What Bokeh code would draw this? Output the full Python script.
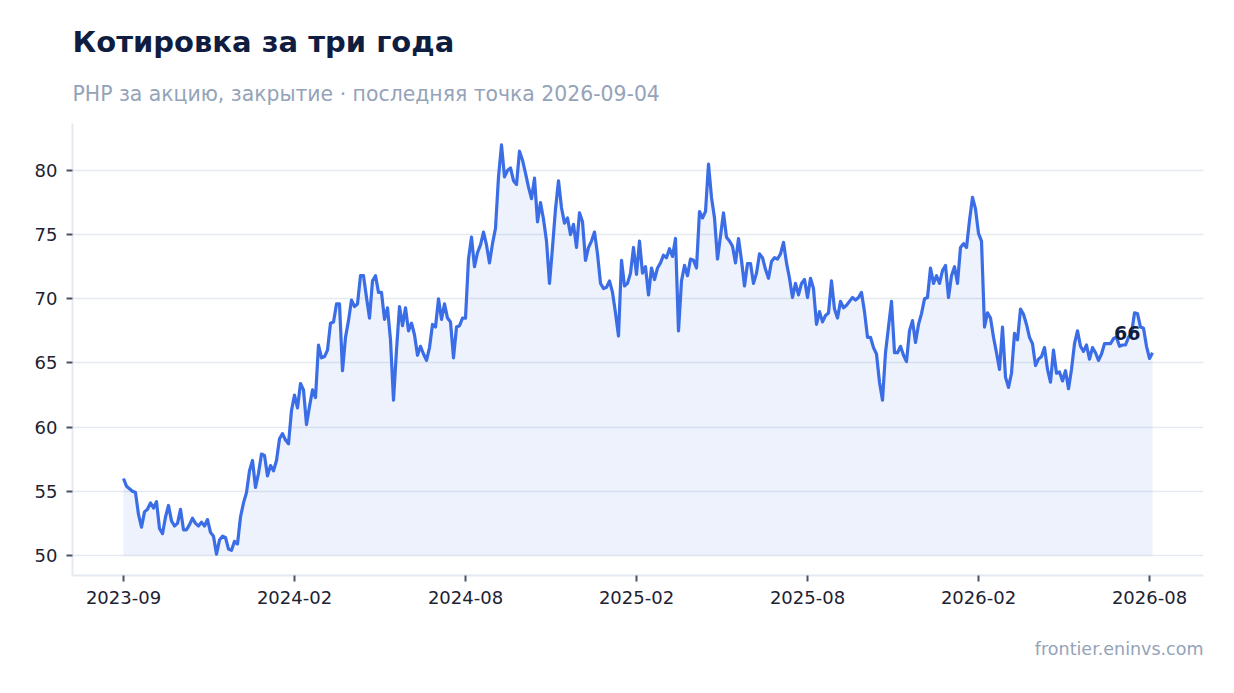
from bokeh.core.properties import value
from bokeh.embed import file_html
from bokeh.models import ColumnDataSource, FixedTicker, Range1d, Title
from bokeh.plotting import figure
from bokeh.resources import INLINE

# Chart texts
title = "Котировка за три года"
subtitle = "PHP за акцию, закрытие · последняя точка 2026-09-04"
credit = "frontier.eninvs.com"

# X axis: one label every 57 samples (about half a year of sessions)
tick_labels = ["2023-09", "2024-02", "2024-08", "2025-02", "2025-08", "2026-02", "2026-08"]
samples_per_tick = 57
y_ticks = [50, 55, 60, 65, 70, 75, 80]

# Closing price, PHP per share (oldest first)
close = [
    56.0, 55.4, 55.2, 55.0, 54.9, 53.2, 52.2, 53.4, 53.6, 54.1,
    53.7, 54.2, 52.1, 51.7, 53.0, 53.9, 52.7, 52.3, 52.5, 53.6,
    52.0, 52.0, 52.4, 52.9, 52.5, 52.3, 52.6, 52.3, 52.8, 51.8,
    51.5, 50.1, 51.2, 51.5, 51.4, 50.5, 50.4, 51.1, 50.9, 53.0,
    54.1, 54.9, 56.6, 57.4, 55.3, 56.4, 57.9, 57.8, 56.2, 57.0,
    56.6, 57.4, 59.1, 59.5, 59.0, 58.7, 61.3, 62.5, 61.5, 63.4,
    62.9, 60.2, 61.6, 62.9, 62.3, 66.4, 65.4, 65.5, 66.0, 68.1,
    68.2, 69.6, 69.6, 64.4, 67.0, 68.3, 69.9, 69.4, 69.6, 71.8,
    71.8, 70.1, 68.5, 71.4, 71.8, 70.5, 70.5, 68.4, 69.3, 66.8,
    62.1, 66.0, 69.4, 67.9, 69.3, 67.5, 68.1, 67.2, 65.6, 66.3,
    65.7, 65.2, 66.2, 68.0, 67.8, 70.0, 68.4, 69.6, 68.5, 68.2,
    65.4, 67.8, 67.9, 68.5, 68.5, 73.1, 74.8, 72.5, 73.6, 74.2,
    75.2, 74.2, 72.8, 74.3, 75.5, 79.5, 82.0, 79.5, 80.0, 80.2,
    79.2, 78.9, 81.5, 80.8, 79.8, 78.7, 77.8, 79.4, 76.0, 77.5,
    76.2, 74.5, 71.2, 74.0, 77.0, 79.2, 77.1, 75.9, 76.3, 75.0,
    75.8, 74.0, 76.7, 76.0, 73.0, 74.0, 74.5, 75.2, 73.5, 71.2,
    70.8, 70.9, 71.4, 70.5, 68.9, 67.1, 73.0, 71.0, 71.2, 72.0,
    74.0, 71.9, 74.5, 72.0, 72.5, 70.3, 72.4, 71.5, 72.4, 72.8,
    73.4, 73.2, 73.9, 73.3, 74.7, 67.5, 71.4, 72.6, 71.8, 73.1,
    73.0, 72.4, 76.8, 76.3, 76.8, 80.5, 77.9, 76.3, 73.1, 74.9,
    76.7, 74.8, 74.5, 74.1, 72.8, 74.7, 73.0, 71.0, 72.75, 72.75,
    71.2, 72.0, 73.5, 73.2, 72.3, 71.6, 72.9, 73.2, 73.1, 73.5,
    74.4, 72.8, 71.6, 70.1, 71.2, 70.3, 71.2, 71.5, 70.1, 71.6,
    70.8, 68.0, 69.0, 68.2, 68.7, 68.9, 71.4, 69.2, 68.5, 69.8,
    69.3, 69.5, 69.8, 70.1, 69.9, 70.1, 70.5, 69.0, 67.0, 67.0,
    66.2, 65.7, 63.5, 62.1, 65.8, 67.8, 69.8, 65.8, 65.8, 66.3,
    65.6, 65.1, 67.5, 68.3, 66.6, 68.0, 68.85, 70.0, 70.1, 72.4,
    71.2, 71.8, 71.2, 72.2, 72.6, 70.1, 71.8, 72.5, 71.2, 74.0,
    74.3, 74.0, 76.1, 77.9, 77.0, 75.1, 74.5, 67.8, 68.9, 68.5,
    67.0, 65.8, 64.5, 67.8, 63.9, 63.1, 64.2, 67.3, 66.8, 69.2,
    68.8, 68.0, 67.0, 66.5, 64.8, 65.3, 65.5, 66.2, 64.5, 63.5,
    66.0, 64.2, 64.3, 63.6, 64.4, 63.0, 64.5, 66.5, 67.5, 66.3,
    65.9, 66.4, 65.3, 66.2, 65.8, 65.2, 65.7, 66.5, 66.5, 66.5,
    66.9, 67.0, 66.3, 66.4, 66.4, 67.0, 67.3, 68.9, 68.85, 67.8,
    67.7, 66.3, 65.35, 65.8,
]

FONT = "DejaVu Sans"
NAVY = "#0f1d40"
MUTED = "#94a3b8"
GRID = "#e5e9f0"
BLUE = "#3a6de6"

sample = list(range(len(close)))
source = ColumnDataSource(data={"x": sample, "close": close})

p = figure(
    width=1226, height=690,
    x_range=Range1d(-17, 360), y_range=Range1d(48.44, 83.66),
    output_backend="svg", toolbar_location=None, tools="",
    min_border_left=72, min_border_right=23, min_border_top=123, min_border_bottom=115,
)
p.title = None

# area under the line, then the line itself
p.varea(x="x", y1=50, y2="close", source=source, fill_color=BLUE, fill_alpha=0.09)
p.line(x="x", y="close", source=source, line_color=BLUE, line_width=3.2, line_join="round")

# last value marker text
last = ColumnDataSource(data={"x": [sample[-1]], "y": [close[-1]], "t": [f"{close[-1]:.0f}"]})
p.text(x="x", y="y", text="t", source=last, text_font=value(FONT), text_font_style="bold",
       text_font_size="19px", text_color=NAVY, text_align="right", text_baseline="bottom",
       x_offset=-12, y_offset=-13)

# titles
p.add_layout(Title(text=subtitle, text_font=FONT, text_font_size="20.4px", text_font_style="normal",
                   text_color=MUTED, align="left", standoff=35), "above")
p.add_layout(Title(text=title, text_font=FONT, text_font_size="29px", text_font_style="bold",
                   text_color=NAVY, align="left", standoff=8), "above")
p.add_layout(Title(text=credit, text_font=FONT, text_font_size="17.5px", text_font_style="normal",
                   text_color=MUTED, align="right", standoff=61), "below")

# axes
p.xaxis.ticker = FixedTicker(ticks=[i * samples_per_tick for i in range(len(tick_labels))])
p.xaxis.major_label_overrides = {i * samples_per_tick: lab for i, lab in enumerate(tick_labels)}
p.yaxis.ticker = FixedTicker(ticks=y_ticks)

for ax in (p.xaxis, p.yaxis):
    ax.axis_line_color = GRID
    ax.axis_line_width = 2
    ax.major_tick_line_color = "#4b5263"
    ax.major_tick_line_width = 2
    ax.major_tick_in = 0
    ax.major_tick_out = 6
    ax.minor_tick_line_color = None
    ax.major_label_text_font = FONT
    ax.major_label_text_font_size = "18px"
    ax.major_label_text_color = "#1c2333"
    ax.major_label_standoff = 9

p.xgrid.grid_line_color = None
p.ygrid.grid_line_color = GRID
p.ygrid.grid_line_width = 1.5
p.outline_line_color = None
p.background_fill_color = "white"
p.border_fill_color = "white"

open("out.html", "w").write(file_html(p, INLINE))
